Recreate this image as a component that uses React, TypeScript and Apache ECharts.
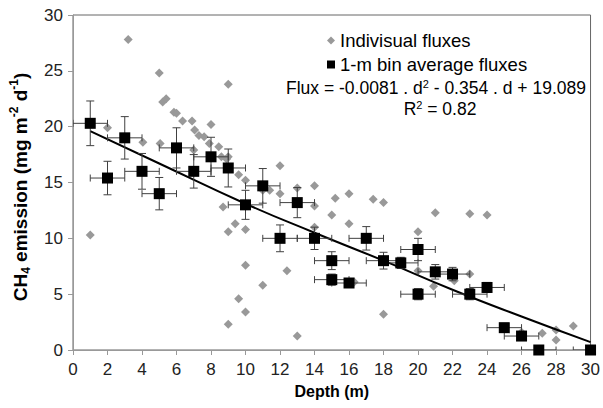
import React, { useEffect, useRef } from "react";
import * as echarts from "echarts";

// Individual fluxes (depth m, flux mg m-2 d-1)
const indivDepth = [1, 2, 3.2, 4.05, 5, 5.05, 5.2, 5.4, 5.85, 6.0, 6.35, 6.9, 7.05, 7.0, 7.3, 7.6, 7.9, 8.0, 8.45, 8.6, 8.9, 9.0, 9.0, 9.6, 10.0, 11.0, 11.4, 12.0, 12.0, 13.0, 14.0, 14.0, 15.2, 16.0, 17.4, 18.0, 15.0, 16.0, 14.0, 8.7, 9.4, 9.0, 10.0, 10.0, 11.0, 12.4, 9.6, 10.0, 9.0, 13.0, 21.0, 23.0, 24.0, 20.0, 20.0, 23.0, 20.9, 22.1, 16.3, 18.0, 26.0, 27.2, 28.0, 28.0, 29.0];
const indivFlux = [10.3, 19.9, 27.8, 18.6, 24.8, 18.5, 22.2, 22.5, 21.3, 21.2, 20.5, 20.5, 19.7, 17.9, 19.2, 19.1, 18.5, 20.2, 18.2, 17.3, 17.1, 17.3, 23.8, 15.7, 15.2, 14.3, 14.3, 14.0, 16.5, 14.5, 14.7, 12.9, 13.6, 14.0, 13.5, 13.2, 12.1, 11.3, 11.0, 12.8, 11.3, 10.6, 10.8, 7.6, 5.8, 7.1, 4.6, 3.4, 2.3, 1.25, 12.3, 12.2, 12.1, 10.6, 7.1, 6.8, 5.7, 6.2, 6.1, 3.2, 1.6, 1.5, 1.8, 0.9, 2.15];

// 1-m bin averages
const binDepth = [1, 2, 3, 4, 5, 6, 7, 8, 9, 10, 11, 12, 13, 14, 15, 15, 16, 17, 18, 19, 20, 20, 21, 22, 23, 24, 25, 26, 27, 30];
const binFlux = [20.3, 15.4, 19.0, 16.0, 14.0, 18.1, 16.0, 17.3, 16.3, 13.0, 14.7, 10.0, 13.2, 10.0, 8.0, 6.3, 6.0, 10.0, 8.0, 7.8, 9.0, 5.0, 7.0, 6.8, 5.0, 5.6, 2.0, 1.25, 0, 0];
const binFluxErr = [2.0, 1.5, 1.9, 1.6, 1.45, 1.8, 1.5, 1.75, 1.7, 1.3, 1.55, 1.2, 1.35, 1.0, 0.8, 0.5, 0.4, 1.05, 0.75, 0.5, 1.0, 0.5, 0.65, 0.6, 0.5, 0.45, 0.2, 0.2, 0, 0];
const binDepthErr = [1, 1, 1, 1, 1, 1, 1, 1, 1, 1, 1, 1, 1, 1, 1, 1, 1, 1, 1, 1, 1, 1, 1, 1, 1, 1, 1, 1, 1, 1];

// Trend line as drawn
const trendDepth = [1, 5, 10, 14, 18, 22, 26, 30];
const trendFlux = [19.6, 16.7, 13.1, 10.5, 8.0, 5.4, 3.0, 0.7];

const xTicks = { min: 0, max: 30, interval: 2 };
const yTicks = { min: 0, max: 30, interval: 5 };

const FONT = "Liberation Sans, Arial, sans-serif";

export default function App() {
  const ref = useRef<HTMLDivElement>(null);

  useEffect(() => {
    if (!ref.current) return;
    const chart = echarts.init(ref.current, undefined, { renderer: "svg" });

    const scatterData = indivDepth.map((d, i) => [d, indivFlux[i]]);
    const binData = binDepth.map((d, i) => [d, binFlux[i]]);
    const errData = binDepth.map((d, i) => [d, binFlux[i], binDepthErr[i], binFluxErr[i]]);
    const trendData = trendDepth.map((d, i) => [d, trendFlux[i]]);

    const errColor = "#404040";

    chart.setOption({
      animation: false,
      backgroundColor: "#fff",
      grid: {
        left: 73,
        right: 10,
        top: 15,
        bottom: 58,
        show: true,
        borderColor: "#666",
        borderWidth: 1,
      },
      legend: {
        orient: "vertical",
        left: 322,
        top: 26,
        itemWidth: 8,
        itemHeight: 8,
        itemGap: 5,
        textStyle: { fontSize: 18.5, fontFamily: FONT, color: "#000", lineHeight: 18 },
        data: [
          { name: "Indivisual fluxes", icon: "diamond", itemStyle: { color: "#999", opacity: 1 } },
          { name: "1-m bin average fluxes", icon: "rect", itemStyle: { color: "#000", opacity: 1 } },
        ],
      },
      xAxis: {
        type: "value",
        min: xTicks.min,
        max: xTicks.max,
        interval: xTicks.interval,
        name: "Depth (m)",
        nameLocation: "middle",
        nameGap: 33,
        nameTextStyle: { fontSize: 16, fontWeight: "bold", fontFamily: FONT, color: "#000" },
        axisLine: { show: true, lineStyle: { color: "#999", width: 1 } },
        axisTick: { show: true, inside: false, length: 5, lineStyle: { color: "#999" } },
        axisLabel: { fontSize: 17, fontFamily: FONT, color: "#222", margin: 11 },
        splitLine: { show: false },
      },
      yAxis: {
        type: "value",
        min: yTicks.min,
        max: yTicks.max,
        interval: yTicks.interval,
        axisLine: { show: true, lineStyle: { color: "#999", width: 1 } },
        axisTick: { show: true, inside: false, length: 5, lineStyle: { color: "#999" } },
        axisLabel: { fontSize: 17, fontFamily: FONT, color: "#222", margin: 10 },
        splitLine: { show: false },
      },
      graphic: [
        {
          type: "text",
          x: 20,
          y: 187,
          rotation: Math.PI / 2,
          style: {
            text: "{b|CH}{s|4}{b| emission (mg m}{p|-2}{b| d}{p|-1}{b|)}",
            align: "center",
            verticalAlign: "middle",
            rich: {
              b: { fontSize: 19, fontWeight: "bold", fontFamily: FONT, fill: "#000", lineHeight: 24, verticalAlign: "middle" },
              s: { fontSize: 12, fontWeight: "bold", fontFamily: FONT, fill: "#000", lineHeight: 24, verticalAlign: "bottom" },
              p: { fontSize: 12, fontWeight: "bold", fontFamily: FONT, fill: "#000", lineHeight: 24, verticalAlign: "top" },
            },
          },
        },
        {
          type: "text",
          x: 436,
          y: 88,
          style: {
            text: "{n|Flux = -0.0081 . d}{p|2}{n| - 0.354 . d + 19.089}",
            align: "center",
            verticalAlign: "middle",
            rich: {
              n: { fontSize: 17.5, fontFamily: FONT, fill: "#000", lineHeight: 20, verticalAlign: "middle" },
              p: { fontSize: 11, fontFamily: FONT, fill: "#000", lineHeight: 20, verticalAlign: "top" },
            },
          },
        },
        {
          type: "text",
          x: 440,
          y: 109,
          style: {
            text: "{n|R}{p|2}{n| = 0.82}",
            align: "center",
            verticalAlign: "middle",
            rich: {
              n: { fontSize: 17.5, fontFamily: FONT, fill: "#000", lineHeight: 20, verticalAlign: "middle" },
              p: { fontSize: 11, fontFamily: FONT, fill: "#000", lineHeight: 20, verticalAlign: "top" },
            },
          },
        },
      ],
      series: [
        {
          name: "Indivisual fluxes",
          type: "scatter",
          symbol: "diamond",
          symbolSize: 9,
          itemStyle: { color: "#999", opacity: 1 },
          data: scatterData,
          z: 2,
        },
        {
          name: "trend",
          type: "line",
          data: trendData,
          smooth: true,
          showSymbol: false,
          symbol: "none",
          lineStyle: { color: "#000", width: 2 },
          z: 3,
        },
        {
          name: "errors",
          type: "custom",
          clip: true,
          z: 4,
          data: errData,
          renderItem: (params: any, api: any) => {
            const x = api.value(0);
            const y = api.value(1);
            const dx = api.value(2);
            const dy = api.value(3);
            const c = api.coord([x, y]);
            const l = api.coord([x - dx, y]);
            const r = api.coord([x + dx, y]);
            const t = api.coord([x, y + dy]);
            const b = api.coord([x, y - dy]);
            const st = { stroke: errColor, lineWidth: 1 };
            const children: any[] = [
              { type: "line", shape: { x1: l[0], y1: c[1], x2: r[0], y2: c[1] }, style: st },
              { type: "line", shape: { x1: l[0], y1: c[1] - 3.5, x2: l[0], y2: c[1] + 3.5 }, style: st },
              { type: "line", shape: { x1: r[0], y1: c[1] - 3.5, x2: r[0], y2: c[1] + 3.5 }, style: st },
            ];
            if (dy > 0) {
              children.push(
                { type: "line", shape: { x1: c[0], y1: t[1], x2: c[0], y2: b[1] }, style: st },
                { type: "line", shape: { x1: c[0] - 4, y1: t[1], x2: c[0] + 4, y2: t[1] }, style: st },
                { type: "line", shape: { x1: c[0] - 4, y1: b[1], x2: c[0] + 4, y2: b[1] }, style: st }
              );
            }
            return { type: "group", children };
          },
        },
        {
          name: "1-m bin average fluxes",
          type: "scatter",
          symbol: "rect",
          symbolSize: 11,
          itemStyle: { color: "#000", opacity: 1 },
          data: binData,
          z: 5,
          clip: false,
        },
      ],
    });

    return () => chart.dispose();
  }, []);

  return (
    <div
      ref={ref}
      style={{ position: "fixed", left: 0, top: 0, width: 603, height: 408, background: "#fff" }}
    />
  );
}
